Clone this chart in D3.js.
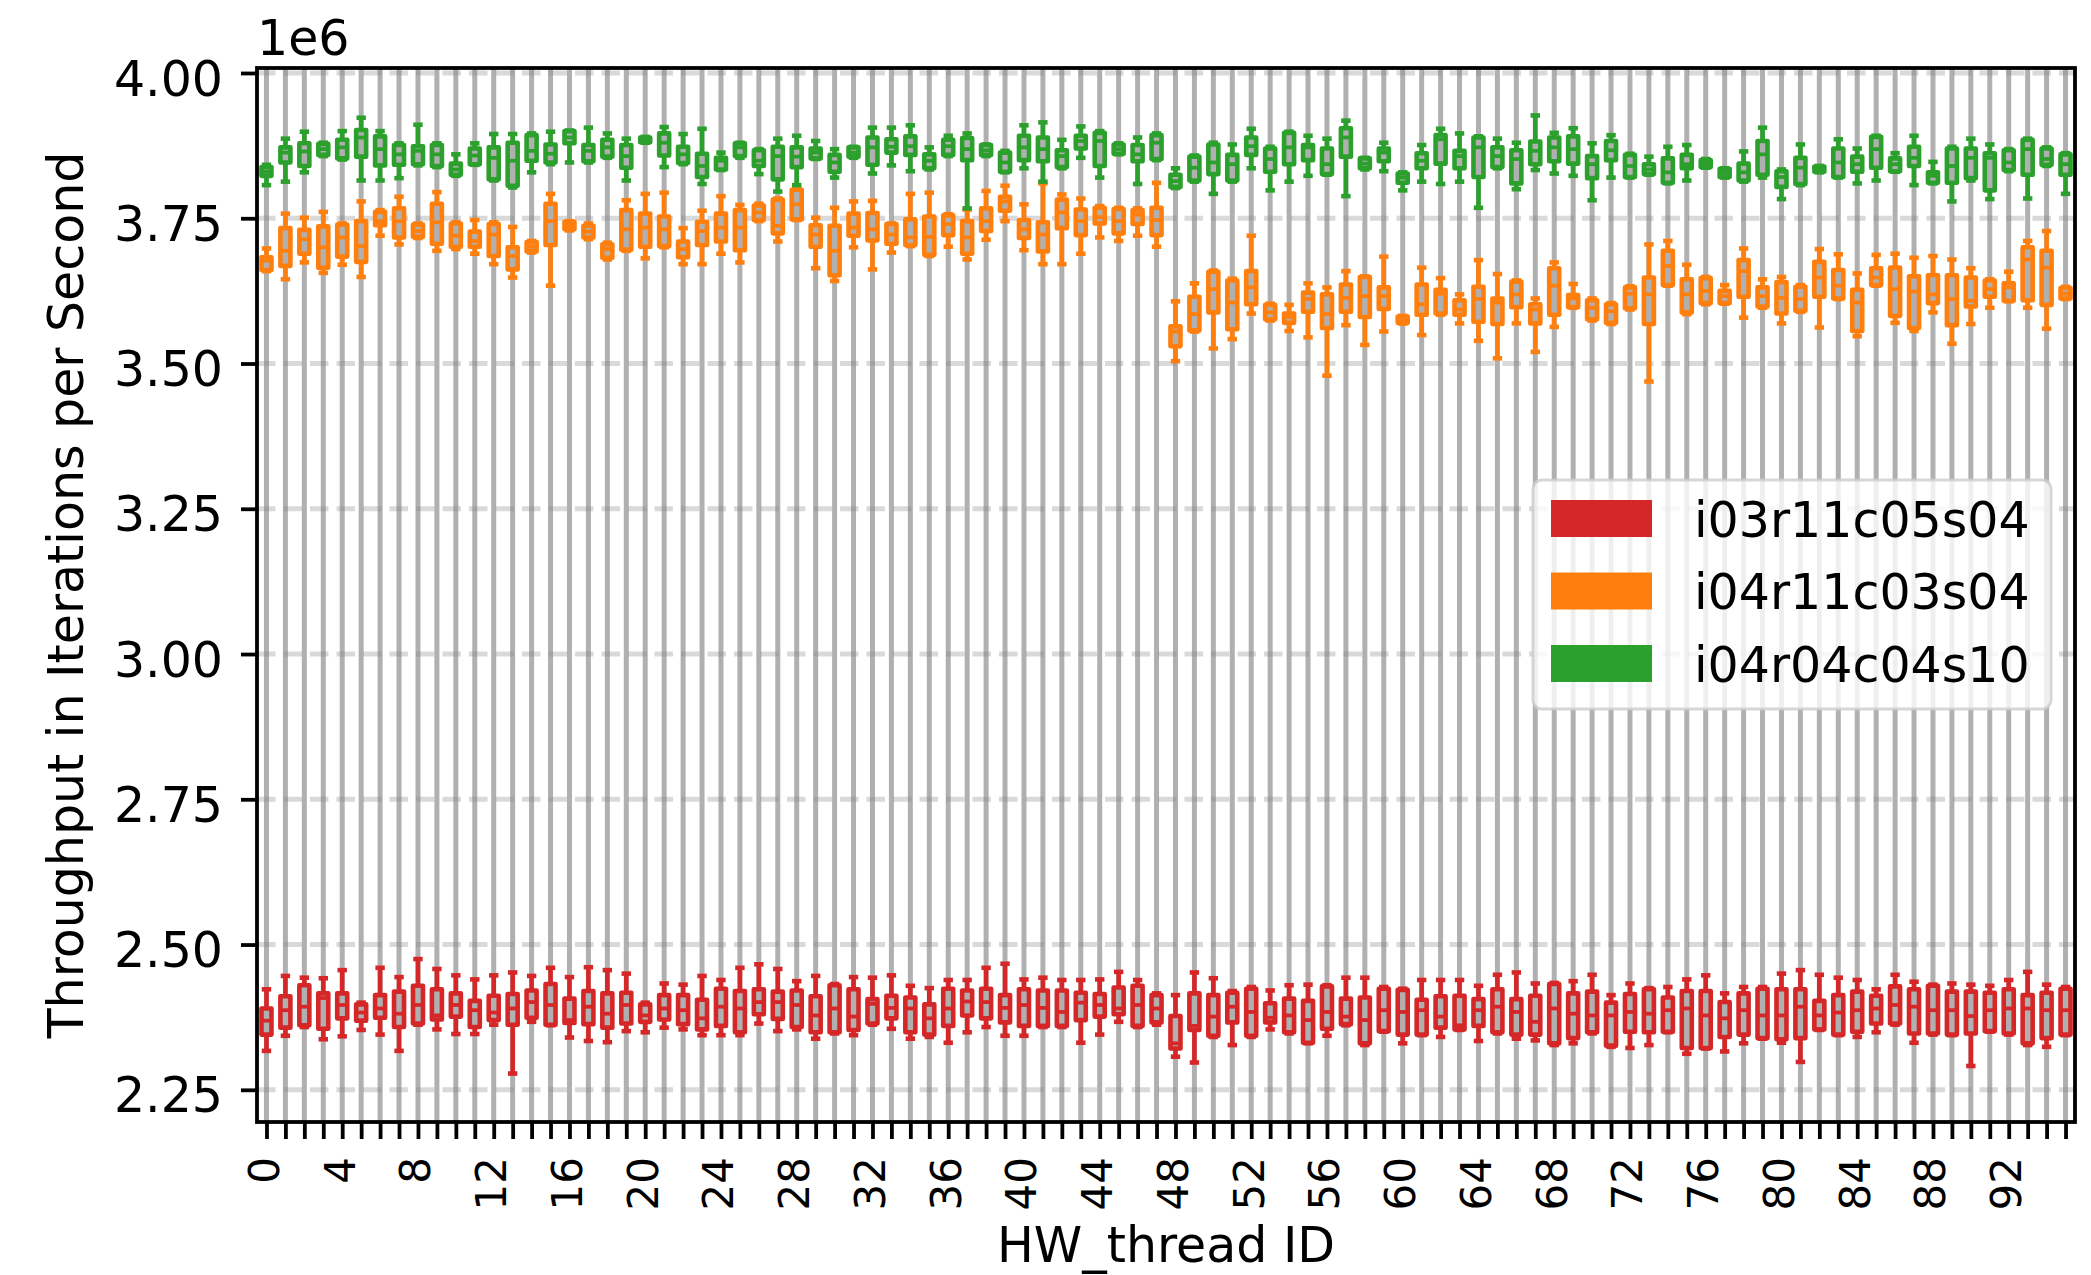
<!DOCTYPE html>
<html>
<head>
<meta charset="utf-8">
<script src="https://cdn.jsdelivr.net/npm/d3@7"></script>
<style>
  body { margin: 0; background: #fff; }
  svg { display: block; font-family: "DejaVu Sans", sans-serif; }
</style>
</head>
<body>
<div id="container"></div>
<script>
// x axis: hardware thread ids, every 4th one labelled
const threads = d3.range(96);
const xLabelStep = 4;
const yTicks = [2.25, 2.5, 2.75, 3.0, 3.25, 3.5, 3.75, 4.0];
const seriesNames = ["i03r11c05s04", "i04r11c03s04", "i04r04c04s10"];
const seriesColors = ["#d62728", "#ff7f0e", "#2ca02c"];

// box stats per thread, in units of 1e6 iterations/s
// each entry: [whiskerHigh, q3, median, q1, whiskerLow]
const red = [
  [2.423,2.390,2.369,2.345,2.317],[2.446,2.411,2.387,2.357,2.343],[2.443,2.430,2.393,2.361,2.358],[2.442,2.416,2.408,2.355,2.337],
  [2.456,2.416,2.396,2.373,2.342],[2.400,2.397,2.383,2.369,2.353],[2.460,2.413,2.390,2.374,2.345],[2.444,2.419,2.381,2.358,2.317],
  [2.475,2.429,2.396,2.364,2.362],[2.458,2.423,2.378,2.371,2.354],[2.447,2.416,2.396,2.376,2.346],[2.440,2.403,2.387,2.358,2.346],
  [2.447,2.412,2.383,2.370,2.362],[2.452,2.415,2.390,2.362,2.278],[2.446,2.421,2.401,2.374,2.367],[2.460,2.432,2.396,2.362,2.361],
  [2.444,2.407,2.370,2.365,2.340],[2.461,2.420,2.393,2.363,2.334],[2.456,2.416,2.381,2.357,2.332],[2.450,2.417,2.396,2.364,2.351],
  [2.400,2.397,2.378,2.367,2.349],[2.433,2.413,2.390,2.371,2.357],[2.431,2.413,2.387,2.363,2.354],[2.446,2.405,2.373,2.354,2.344],
  [2.439,2.424,2.393,2.360,2.344],[2.460,2.420,2.390,2.349,2.344],[2.466,2.423,2.401,2.380,2.364],[2.458,2.419,2.401,2.372,2.351],
  [2.437,2.421,2.396,2.358,2.354],[2.446,2.411,2.378,2.349,2.338],[2.432,2.430,2.390,2.349,2.347],[2.444,2.423,2.376,2.353,2.344],
  [2.443,2.406,2.398,2.364,2.362],[2.447,2.412,2.391,2.373,2.355],[2.429,2.409,2.390,2.349,2.338],[2.425,2.397,2.373,2.345,2.341],
  [2.439,2.424,2.390,2.360,2.331],[2.439,2.421,2.402,2.378,2.349],[2.460,2.424,2.401,2.373,2.358],[2.467,2.413,2.391,2.366,2.343],
  [2.440,2.423,2.396,2.360,2.343],[2.443,2.421,2.391,2.360,2.358],[2.439,2.421,2.384,2.360,2.358],[2.439,2.417,2.400,2.370,2.331],
  [2.440,2.415,2.396,2.376,2.345],[2.453,2.426,2.390,2.380,2.367],[2.439,2.429,2.396,2.360,2.358],[2.416,2.413,2.390,2.366,2.362],
  [2.413,2.377,2.330,2.321,2.307],[2.452,2.416,2.360,2.353,2.297],[2.442,2.413,2.376,2.343,2.341],[2.420,2.417,2.393,2.366,2.327],
  [2.427,2.424,2.384,2.343,2.341],[2.421,2.399,2.374,2.366,2.354],[2.430,2.407,2.378,2.349,2.347],[2.431,2.403,2.370,2.331,2.330],
  [2.430,2.428,2.384,2.355,2.343],[2.443,2.407,2.376,2.363,2.361],[2.443,2.409,2.370,2.330,2.327],[2.427,2.424,2.387,2.351,2.350],
  [2.424,2.422,2.384,2.345,2.330],[2.439,2.405,2.387,2.345,2.344],[2.439,2.411,2.376,2.357,2.341],[2.439,2.412,2.361,2.354,2.353],
  [2.429,2.406,2.387,2.360,2.334],[2.448,2.423,2.393,2.349,2.347],[2.452,2.406,2.384,2.345,2.338],[2.433,2.412,2.367,2.345,2.335],
  [2.434,2.432,2.390,2.330,2.327],[2.437,2.416,2.381,2.339,2.330],[2.448,2.419,2.378,2.349,2.347],[2.413,2.400,2.378,2.326,2.324],
  [2.433,2.415,2.384,2.350,2.322],[2.425,2.423,2.381,2.349,2.327],[2.427,2.409,2.387,2.350,2.349],[2.440,2.420,2.390,2.322,2.312],
  [2.447,2.420,2.378,2.322,2.321],[2.416,2.401,2.373,2.341,2.316],[2.427,2.416,2.387,2.345,2.330],[2.427,2.424,2.378,2.339,2.338],
  [2.450,2.423,2.378,2.337,2.331],[2.456,2.423,2.393,2.339,2.298],[2.448,2.403,2.378,2.354,2.353],[2.443,2.413,2.383,2.345,2.344],
  [2.439,2.419,2.387,2.350,2.341],[2.423,2.412,2.390,2.364,2.349],[2.448,2.428,2.396,2.364,2.362],[2.436,2.423,2.393,2.347,2.331],
  [2.431,2.429,2.387,2.347,2.345],[2.433,2.419,2.387,2.345,2.344],[2.431,2.419,2.377,2.347,2.291],[2.429,2.417,2.387,2.351,2.350],
  [2.439,2.423,2.390,2.347,2.345],[2.453,2.413,2.390,2.330,2.327],[2.431,2.417,2.387,2.339,2.324],[2.427,2.424,2.387,2.345,2.344]
];
const orange = [
  [3.698,3.683,3.677,3.661,3.659],[3.758,3.733,3.694,3.668,3.645],[3.751,3.730,3.714,3.689,3.674],[3.761,3.736,3.700,3.665,3.656],
  [3.741,3.739,3.717,3.684,3.670],[3.779,3.745,3.702,3.675,3.649],[3.764,3.761,3.745,3.738,3.720],[3.787,3.767,3.745,3.717,3.705],
  [3.741,3.739,3.728,3.718,3.716],[3.795,3.775,3.743,3.706,3.694],[3.743,3.741,3.720,3.701,3.697],[3.747,3.727,3.711,3.701,3.689],
  [3.743,3.740,3.722,3.685,3.671],[3.735,3.700,3.685,3.662,3.648],[3.711,3.709,3.701,3.693,3.691],[3.792,3.775,3.745,3.704,3.634],
  [3.745,3.744,3.738,3.731,3.729],[3.741,3.737,3.727,3.717,3.714],[3.708,3.705,3.697,3.682,3.679],[3.781,3.764,3.731,3.696,3.694],
  [3.792,3.758,3.734,3.701,3.681],[3.794,3.753,3.731,3.702,3.700],[3.733,3.710,3.697,3.683,3.671],[3.763,3.744,3.728,3.704,3.671],
  [3.788,3.758,3.734,3.710,3.689],[3.773,3.764,3.734,3.695,3.674],[3.775,3.772,3.760,3.747,3.745],[3.784,3.782,3.737,3.724,3.710],
  [3.801,3.799,3.774,3.748,3.747],[3.751,3.738,3.722,3.701,3.664],[3.768,3.737,3.694,3.652,3.642],[3.779,3.758,3.734,3.720,3.700],
  [3.780,3.759,3.731,3.712,3.662],[3.741,3.740,3.722,3.706,3.691],[3.792,3.748,3.717,3.704,3.702],[3.794,3.753,3.718,3.687,3.685],
  [3.757,3.755,3.740,3.721,3.701],[3.765,3.745,3.717,3.689,3.679],[3.797,3.767,3.745,3.728,3.713],[3.806,3.787,3.779,3.763,3.745],
  [3.774,3.747,3.731,3.716,3.695],[3.810,3.743,3.722,3.693,3.671],[3.791,3.782,3.760,3.733,3.671],[3.784,3.765,3.745,3.721,3.689],
  [3.771,3.768,3.752,3.741,3.717],[3.768,3.766,3.745,3.724,3.711],[3.767,3.764,3.756,3.740,3.720],[3.811,3.768,3.747,3.721,3.701],
  [3.607,3.564,3.555,3.530,3.504],[3.638,3.615,3.585,3.557,3.555],[3.660,3.658,3.628,3.588,3.526],[3.646,3.643,3.605,3.559,3.542],
  [3.720,3.659,3.631,3.602,3.586],[3.603,3.601,3.588,3.576,3.574],[3.601,3.586,3.580,3.570,3.556],[3.638,3.622,3.611,3.589,3.545],
  [3.631,3.619,3.585,3.561,3.479],[3.659,3.636,3.613,3.589,3.566],[3.650,3.649,3.616,3.580,3.532],[3.684,3.631,3.616,3.594,3.555],
  [3.582,3.581,3.575,3.570,3.569],[3.665,3.636,3.602,3.584,3.549],[3.647,3.627,3.620,3.586,3.584],[3.619,3.609,3.593,3.584,3.569],
  [3.678,3.632,3.611,3.572,3.539],[3.654,3.612,3.605,3.568,3.509],[3.643,3.641,3.619,3.597,3.569],[3.612,3.602,3.593,3.569,3.520],
  [3.674,3.664,3.634,3.584,3.563],[3.637,3.618,3.612,3.597,3.596],[3.612,3.609,3.596,3.576,3.574],[3.604,3.602,3.590,3.570,3.568],
  [3.633,3.631,3.620,3.595,3.593],[3.705,3.648,3.619,3.568,3.469],[3.711,3.694,3.668,3.635,3.634],[3.670,3.645,3.619,3.588,3.585],
  [3.649,3.647,3.625,3.604,3.602],[3.635,3.625,3.616,3.604,3.603],[3.698,3.678,3.659,3.615,3.579],[3.645,3.631,3.616,3.598,3.596],
  [3.649,3.640,3.613,3.586,3.569],[3.635,3.632,3.611,3.591,3.589],[3.697,3.675,3.648,3.615,3.562],[3.688,3.661,3.634,3.612,3.611],
  [3.655,3.627,3.605,3.556,3.547],[3.687,3.664,3.648,3.635,3.634],[3.689,3.665,3.628,3.582,3.570],[3.682,3.650,3.624,3.561,3.556],
  [3.685,3.652,3.619,3.604,3.588],[3.679,3.652,3.611,3.566,3.534],[3.664,3.648,3.608,3.598,3.568],[3.645,3.643,3.628,3.615,3.596],
  [3.658,3.638,3.631,3.608,3.607],[3.711,3.700,3.679,3.609,3.596],[3.728,3.694,3.665,3.601,3.560],[3.632,3.630,3.620,3.612,3.611]
];
const green = [
  [3.842,3.838,3.830,3.823,3.807],[3.887,3.872,3.863,3.846,3.813],[3.899,3.879,3.865,3.840,3.829],[3.880,3.878,3.869,3.859,3.857],
  [3.900,3.885,3.872,3.853,3.851],[3.923,3.902,3.889,3.856,3.815],[3.900,3.891,3.869,3.841,3.815],[3.879,3.876,3.860,3.842,3.819],
  [3.911,3.874,3.866,3.843,3.841],[3.879,3.876,3.860,3.840,3.838],[3.860,3.844,3.834,3.825,3.823],[3.879,3.870,3.858,3.843,3.842],
  [3.895,3.872,3.854,3.817,3.815],[3.895,3.880,3.849,3.806,3.803],[3.896,3.893,3.866,3.849,3.829],[3.899,3.877,3.861,3.846,3.843],
  [3.901,3.900,3.889,3.879,3.846],[3.906,3.876,3.866,3.848,3.846],[3.896,3.885,3.872,3.856,3.854],[3.887,3.876,3.857,3.837,3.815],
  [3.890,3.889,3.885,3.881,3.880],[3.907,3.896,3.880,3.858,3.838],[3.895,3.873,3.860,3.845,3.843],[3.904,3.861,3.840,3.821,3.809],
  [3.863,3.854,3.849,3.834,3.833],[3.880,3.879,3.872,3.857,3.854],[3.869,3.867,3.849,3.840,3.826],[3.887,3.873,3.857,3.817,3.796],
  [3.892,3.872,3.856,3.838,3.807],[3.883,3.870,3.863,3.853,3.852],[3.869,3.859,3.846,3.830,3.820],[3.873,3.872,3.863,3.856,3.854],
  [3.906,3.889,3.872,3.842,3.827],[3.906,3.886,3.873,3.863,3.841],[3.910,3.891,3.874,3.859,3.831],[3.872,3.860,3.849,3.836,3.834],
  [3.892,3.885,3.874,3.859,3.857],[3.896,3.888,3.869,3.850,3.767],[3.877,3.876,3.867,3.859,3.857],[3.866,3.863,3.846,3.830,3.829],
  [3.910,3.892,3.872,3.850,3.836],[3.915,3.889,3.869,3.848,3.813],[3.885,3.867,3.857,3.838,3.836],[3.908,3.892,3.883,3.870,3.854],
  [3.900,3.897,3.883,3.840,3.820],[3.879,3.877,3.869,3.861,3.860],[3.889,3.876,3.860,3.848,3.809],[3.896,3.893,3.880,3.852,3.850],
  [3.836,3.825,3.814,3.804,3.802],[3.858,3.856,3.837,3.815,3.813],[3.880,3.877,3.846,3.826,3.792],[3.877,3.859,3.843,3.815,3.813],
  [3.904,3.889,3.874,3.859,3.836],[3.873,3.870,3.852,3.830,3.798],[3.899,3.897,3.872,3.843,3.813],[3.892,3.876,3.872,3.850,3.823],
  [3.887,3.870,3.843,3.826,3.825],[3.918,3.905,3.889,3.856,3.788],[3.854,3.853,3.844,3.836,3.834],[3.880,3.870,3.863,3.848,3.831],
  [3.829,3.827,3.820,3.811,3.798],[3.876,3.862,3.849,3.836,3.813],[3.904,3.893,3.886,3.844,3.809],[3.896,3.866,3.857,3.836,3.813],
  [3.891,3.889,3.872,3.821,3.768],[3.887,3.872,3.857,3.838,3.836],[3.880,3.867,3.852,3.810,3.800],[3.927,3.882,3.866,3.843,3.833],
  [3.897,3.889,3.872,3.848,3.827],[3.905,3.891,3.869,3.844,3.823],[3.879,3.857,3.843,3.819,3.781],[3.893,3.883,3.867,3.850,3.820],
  [3.861,3.859,3.840,3.821,3.820],[3.856,3.843,3.834,3.826,3.825],[3.873,3.853,3.829,3.811,3.810],[3.876,3.859,3.843,3.836,3.815],
  [3.852,3.850,3.845,3.838,3.837],[3.836,3.835,3.828,3.821,3.820],[3.865,3.844,3.829,3.815,3.813],[3.906,3.883,3.860,3.825,3.820],
  [3.834,3.831,3.821,3.804,3.783],[3.877,3.854,3.837,3.809,3.807],[3.840,3.839,3.834,3.830,3.829],[3.886,3.870,3.846,3.821,3.820],
  [3.870,3.856,3.843,3.830,3.810],[3.892,3.890,3.869,3.837,3.815],[3.862,3.853,3.843,3.831,3.830],[3.892,3.873,3.854,3.840,3.807],
  [3.847,3.829,3.823,3.811,3.810],[3.873,3.870,3.840,3.811,3.779],[3.887,3.870,3.854,3.819,3.815],[3.877,3.862,3.854,3.798,3.783],
  [3.869,3.867,3.846,3.833,3.831],[3.887,3.885,3.869,3.825,3.784],[3.872,3.870,3.852,3.842,3.840],[3.862,3.860,3.843,3.825,3.792]
];

const W = 2091, H = 1275;
const margin = {top: 68, right: 16, bottom: 153, left: 257};
const width = W - margin.left - margin.right;
const height = H - margin.top - margin.bottom;

const svg = d3.select("#container").append("svg")
  .attr("width", W)
  .attr("height", H);

svg.append("rect").attr("width", W).attr("height", H).attr("fill", "#fff");

const g = svg.append("g")
  .attr("transform", `translate(${margin.left},${margin.top})`);

const x = d3.scaleLinear().domain([-0.5, 95.5]).range([0, width]);
const y = d3.scaleLinear().domain([2.1946, 4.0086]).range([height, 0]);

const lw = 3.8;     // axes / ticks
const boxLw = 4.6;  // box outlines, whiskers, caps

// grid: solid vertical lines per thread, dashed horizontal lines at y ticks
g.append("g").selectAll("line").data(threads).join("line")
  .attr("x1", d => x(d)).attr("x2", d => x(d))
  .attr("y1", 0).attr("y2", height)
  .attr("stroke", "#b0b0b0").attr("stroke-width", 5);

g.append("g").selectAll("line").data(yTicks).join("line")
  .attr("x1", 0).attr("x2", width)
  .attr("y1", d => y(d)).attr("y2", d => y(d))
  .attr("stroke", "#808080").attr("stroke-opacity", 0.3)
  .attr("stroke-width", 5).attr("stroke-dasharray", "18.5 8");

// box plots
const boxW = 10, capW = 4.8;
function drawBoxes(stats, color) {
  const item = g.append("g").selectAll("g").data(stats).join("g")
    .attr("transform", (d, i) => `translate(${x(i)},0)`);

  item.append("line")
    .attr("y1", d => y(d[0])).attr("y2", d => y(d[1]))
    .attr("stroke", color).attr("stroke-width", boxLw);
  item.append("line")
    .attr("y1", d => y(d[3])).attr("y2", d => y(d[4]))
    .attr("stroke", color).attr("stroke-width", boxLw);

  [0, 4].forEach(k => {
    item.append("line")
      .attr("x1", -capW / 2).attr("x2", capW / 2)
      .attr("y1", d => y(d[k])).attr("y2", d => y(d[k]))
      .attr("stroke", color).attr("stroke-width", boxLw)
      .attr("stroke-linecap", "square");
  });

  item.append("rect")
    .attr("x", -boxW / 2).attr("width", boxW)
    .attr("y", d => y(d[1]))
    .attr("height", d => Math.max(0.1, y(d[3]) - y(d[1])))
    .attr("fill", "#b0b0b0")
    .attr("stroke", color).attr("stroke-width", boxLw)
    .attr("stroke-linejoin", "round");

  item.append("line")
    .attr("x1", -boxW / 2).attr("x2", boxW / 2)
    .attr("y1", d => y(d[2])).attr("y2", d => y(d[2]))
    .attr("stroke", color).attr("stroke-width", 3.8);
}

drawBoxes(red, seriesColors[0]);
drawBoxes(orange, seriesColors[1]);
drawBoxes(green, seriesColors[2]);

// axes
const yAxis = g.append("g")
  .call(d3.axisLeft(y).tickValues(yTicks).tickSize(16).tickPadding(18).tickFormat(d3.format(".2f")));
yAxis.select(".domain").remove();
yAxis.selectAll("line").attr("stroke", "#000").attr("stroke-width", lw);
yAxis.selectAll("text")
  .attr("dy", "0.45em")
  .style("font-size", "49px")
  .style("font-family", "DejaVu Sans")
  .attr("fill", "#000");

const xAxis = g.append("g")
  .attr("transform", `translate(0,${height})`)
  .call(d3.axisBottom(x).tickValues(threads).tickSize(17)
    .tickFormat(d => d % xLabelStep === 0 ? d : ""));
xAxis.select(".domain").remove();
xAxis.selectAll("line").attr("stroke", "#000").attr("stroke-width", lw);
xAxis.selectAll("text")
  .attr("transform", "rotate(-90)")
  .attr("x", -35).attr("y", 12).attr("dy", null)
  .attr("text-anchor", "end")
  .style("font-size", "42px")
  .style("font-family", "DejaVu Sans")
  .attr("fill", "#000");

// spines
g.append("rect")
  .attr("width", width).attr("height", height)
  .attr("fill", "none").attr("stroke", "#000").attr("stroke-width", lw);

// offset text and axis labels
svg.append("text")
  .attr("x", margin.left).attr("y", 55)
  .style("font-size", "49px")
  .text("1e6");

svg.append("text")
  .attr("transform", `translate(83,${margin.top + height / 2}) rotate(-90)`)
  .attr("text-anchor", "middle")
  .style("font-size", "49px")
  .text("Throughput in Iterations per Second");

svg.append("text")
  .attr("x", margin.left + width / 2).attr("y", 1262)
  .attr("text-anchor", "middle")
  .style("font-size", "49px")
  .text("HW_thread ID");

// legend
const legend = svg.append("g").attr("transform", "translate(1533,480)");
legend.append("rect")
  .attr("width", 518).attr("height", 229).attr("rx", 9)
  .attr("fill", "#fff").attr("fill-opacity", 0.8)
  .attr("stroke", "#cccccc").attr("stroke-opacity", 0.8).attr("stroke-width", 3);

seriesNames.forEach((name, i) => {
  const row = legend.append("g").attr("transform", `translate(0,${38.5 + i * 72.5})`);
  row.append("rect")
    .attr("x", 18).attr("y", -18.5)
    .attr("width", 101).attr("height", 37)
    .attr("fill", seriesColors[i]);
  row.append("text")
    .attr("x", 161).attr("y", 18)
    .style("font-size", "49px")
    .text(name);
});
</script>
</body>
</html>
